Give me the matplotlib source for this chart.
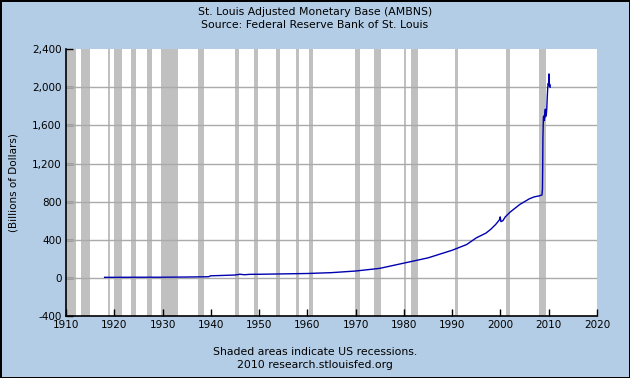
import matplotlib
matplotlib.use("Agg")
import matplotlib.pyplot as plt
from matplotlib.ticker import FuncFormatter

# ── Data ─────────────────────────────────────────────────────────────────────
# St. Louis adjusted monetary base, billions of dollars
years = [1918.0, 1920.0, 1925.0, 1930.0, 1935.0, 1939.5, 1940.0, 1942.0, 1945.0,
         1946.0, 1947.0, 1948.0, 1950.0, 1955.0, 1960.0, 1965.0, 1970.0,
         1975.0, 1980.0, 1985.0, 1990.0, 1993.0, 1995.0, 1997.0, 1998.0,
         1999.0, 1999.8, 1999.95, 2000.1, 2000.5, 2001.0, 2002.0, 2003.0,
         2004.0, 2005.0, 2006.0, 2007.0, 2008.0, 2008.6, 2008.7, 2008.75,
         2008.8, 2008.85, 2008.9, 2009.0, 2009.1, 2009.2, 2009.3, 2009.35,
         2009.4, 2009.5, 2009.6, 2009.7, 2009.8, 2009.9, 2010.0, 2010.05,
         2010.1, 2010.15, 2010.2, 2010.3]
values = [6, 6, 7, 7, 9, 12, 22, 25, 30,
          38, 33, 37, 38, 42, 46, 55, 72,
          100, 155, 210, 290, 350, 420, 470, 510,
          560, 610, 640, 590, 600, 640, 690, 730,
          770, 800, 830, 850, 860, 870, 930, 1150,
          1470, 1580, 1690, 1700, 1650, 1720, 1770, 1690,
          1760, 1710, 1780, 1900, 2000, 2040, 2020, 2140,
          2090, 2010, 2030, 2000]

# NBER recessions (start, end)
rec_start = [1910.0, 1913.0, 1918.6, 1920.0, 1923.4, 1926.8, 1929.6, 1937.4,
             1945.1, 1948.9, 1953.5, 1957.6, 1960.3, 1969.9, 1973.9, 1980.0,
             1981.5, 1990.5, 2001.2, 2007.9]
rec_end = [1912.0, 1915.0, 1919.2, 1921.6, 1924.5, 1927.9, 1933.2, 1938.5,
           1945.8, 1949.8, 1954.4, 1958.3, 1961.1, 1970.9, 1975.2, 1980.5,
           1982.9, 1991.2, 2001.9, 2009.5]

xticks = list(range(1910, 2021, 10))
yticks = list(range(-400, 2401, 400))

# ── Figure ───────────────────────────────────────────────────────────────────
bg = "#B4CDE6"
fig = plt.figure(figsize=(6.3, 3.78), dpi=100)
fig.patch.set_facecolor(bg)
fig.patch.set_edgecolor("black")
fig.patch.set_linewidth(2)

ax = fig.add_axes([0.1048, 0.164, 0.8428, 0.706])
ax.set_facecolor("white")

for s, e in zip(rec_start, rec_end):
    ax.axvspan(s, e, color="#C0C0C0", lw=0, zorder=1)

for y in yticks[1:-1]:
    ax.axhline(y, color="#AAAAAA", lw=1, zorder=2)

ax.plot(years, values, color="#0000B0", lw=1.0, zorder=3)

ax.set_xlim(1910, 2020)
ax.set_ylim(-400, 2400)
ax.set_xticks(xticks)
ax.set_yticks(yticks)
ax.yaxis.set_major_formatter(FuncFormatter(lambda v, _: f"{v:,.0f}"))
ax.tick_params(direction="in", length=5, width=1, labelsize=7.5,
               colors="black", pad=3)
for side in ["top", "right"]:
    ax.spines[side].set_visible(False)
for side in ["left", "bottom"]:
    ax.spines[side].set_linewidth(1.2)

ax.set_ylabel("(Billions of Dollars)", fontsize=7.5, labelpad=10)

fig.text(0.5, 0.968, "St. Louis Adjusted Monetary Base (AMBNS)",
         ha="center", va="center", fontsize=7.8)
fig.text(0.5, 0.934, "Source: Federal Reserve Bank of St. Louis",
         ha="center", va="center", fontsize=7.8)
fig.text(0.5, 0.069, "Shaded areas indicate US recessions.",
         ha="center", va="center", fontsize=7.8)
fig.text(0.5, 0.034, "2010 research.stlouisfed.org",
         ha="center", va="center", fontsize=7.8)

fig.savefig("out.png", dpi=100, facecolor=bg, edgecolor="black")
